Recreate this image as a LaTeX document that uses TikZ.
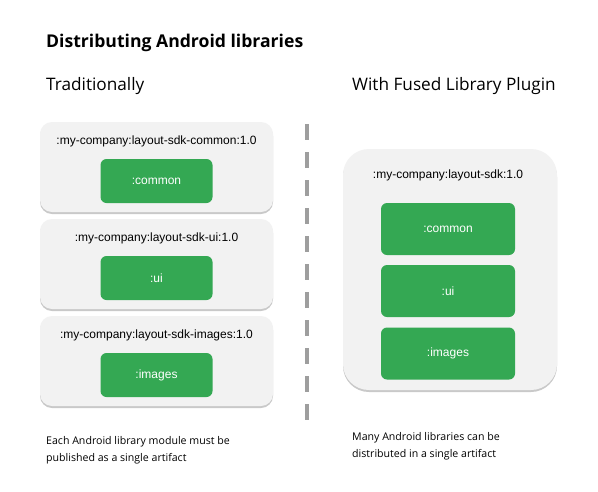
\documentclass[tikz,border=0pt]{standalone}
\usepackage{fontspec}
\setmainfont{Open Sans}
\newfontfamily\arialf{Liberation Sans}
\usetikzlibrary{shadows}
\definecolor{boxgray}{HTML}{F2F2F2}
\definecolor{gGreen}{HTML}{34A853}
\definecolor{dashgray}{HTML}{9E9E9E}
\begin{document}
\begin{tikzpicture}[x=1pt,y=-1pt,
  outerbox/.style={fill=boxgray, rounded corners=12pt, draw=none,
    drop shadow={shadow xshift=0pt, shadow yshift=-2pt, opacity=0.35, fill=black!60}},
  bigbox/.style={outerbox, rounded corners=26pt},
  modbox/.style={fill=gGreen, rounded corners=6pt, draw=none, text=white,
    font=\arialf\fontsize{12}{14}\selectfont},
  pkglabel/.style={font=\arialf\fontsize{12}{14}\selectfont, anchor=center},
  heading/.style={font=\fontsize{17.2}{21}\selectfont, anchor=base west, inner sep=0pt},
  note/.style={font=\fontsize{10.6}{17}\selectfont, anchor=north west, align=left, inner sep=0pt}
]
\useasboundingbox (0,0) rectangle (598,491);
\fill[white] (0,0) rectangle (598,491);

\node[anchor=base west, inner sep=0pt, font=\bfseries\fontsize{17.6}{20}\selectfont] (title) at (46,47) {Distributing Android libraries};
\node[heading] (trad) at (46,90) {Traditionally};
\node[heading] (fused) at (352,90) {With Fused Library Plugin};

% left boxes
\path[outerbox] (40,122) rectangle (273,212);
\node[pkglabel] (l1) at (156.5,141) {:my-company:layout-sdk-common:1.0};
\node[modbox, minimum width=112pt, minimum height=44pt] (m1) at (156.5,181) {:common};

\path[outerbox] (40,219) rectangle (273,309);
\node[pkglabel] (l2) at (156.5,238) {:my-company:layout-sdk-ui:1.0};
\node[modbox, minimum width=112pt, minimum height=44pt] (m2) at (156.5,278) {:ui};

\path[outerbox] (40,316) rectangle (273,406);
\node[pkglabel] (l3) at (156.5,335) {:my-company:layout-sdk-images:1.0};
\node[modbox, minimum width=112pt, minimum height=44pt] (m3) at (156.5,375) {:images};

% divider
\coordinate (d1) at (307,124);
\coordinate (d2) at (307,420);
\draw[dashgray, line width=4pt, dash pattern=on 16pt off 12pt] (d1) -- (d2);

% right box
\path[bigbox] (343,149) rectangle (557,390);
\node[pkglabel] (r0) at (448,175) {:my-company:layout-sdk:1.0};
\node[modbox, minimum width=134pt, minimum height=52pt] (r1) at (448,229) {:common};
\node[modbox, minimum width=134pt, minimum height=52pt] (r2) at (448,291) {:ui};
\node[modbox, minimum width=134pt, minimum height=52pt] (r3) at (448,353.5) {:images};

% notes
\node[note] (n1) at (46,436) {Each Android library module must be\\published as a single artifact};
\node[note] (n2) at (352,432) {Many Android libraries can be\\distributed in a single artifact};
\end{tikzpicture}
\end{document}
